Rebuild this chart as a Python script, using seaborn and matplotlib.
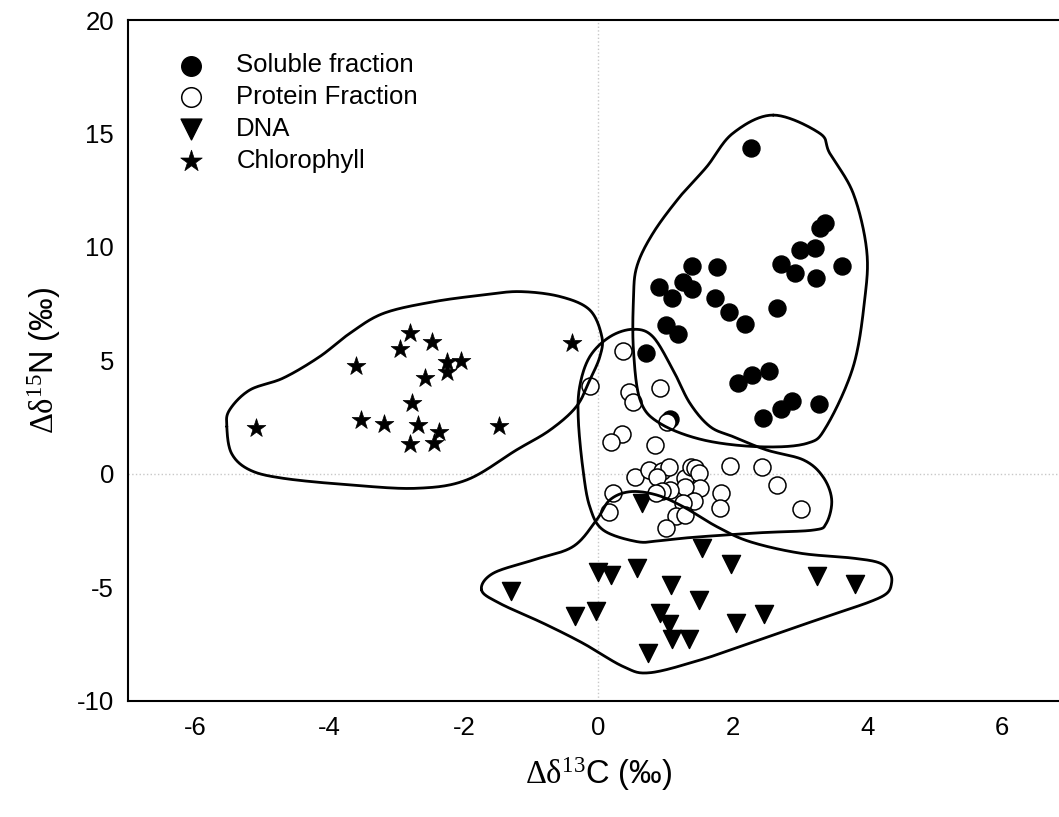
import numpy as np
import pandas as pd
import matplotlib
matplotlib.use("Agg")
import matplotlib.pyplot as plt
import seaborn as sns

# --- data (delta13C, delta15N, permil) ---
soluble_x = [2.27, 3.37, 3.29, 3.00, 3.22, 2.71, 2.93, 3.24, 3.63, 2.65,
             1.39, 1.77, 0.90, 1.25, 1.39, 1.10, 1.73, 1.94, 2.18, 1.01,
             1.19, 0.70, 2.08, 2.29, 2.54, 2.45, 2.71, 2.88, 3.28, 1.06]
soluble_y = [14.38, 11.04, 10.85, 9.86, 9.94, 9.25, 8.86, 8.64, 9.16, 7.32,
             9.17, 9.10, 8.25, 8.47, 8.13, 7.76, 7.73, 7.12, 6.59, 6.56,
             6.15, 5.34, 4.02, 4.35, 4.53, 2.45, 2.84, 3.22, 3.08, 2.40]

protein_x = [0.36, -0.13, 0.46, 0.52, 0.91, 1.02, 0.35, 0.18, 0.84, 1.96,
             2.44, 2.65, 3.01, 0.54, 0.75, 0.95, 1.05, 0.87, 1.29, 1.37,
             1.43, 1.50, 1.51, 1.29, 1.06, 0.95, 0.85, 0.22, 0.16, 1.42,
             1.25, 1.82, 1.81, 1.16, 1.29, 1.01]
protein_y = [5.41, 3.87, 3.62, 3.18, 3.77, 2.30, 1.75, 1.42, 1.27, 0.34,
             0.29, -0.48, -1.56, -0.13, 0.17, 0.14, 0.29, -0.15, -0.20, 0.31,
             0.24, 0.02, -0.64, -0.57, -0.71, -0.74, -0.83, -0.86, -1.67, -1.18,
             -1.27, -0.83, -1.52, -1.86, -1.82, -2.40]

dna_x = [-1.30, -0.35, -0.04, -0.01, 0.18, 0.58, 0.64, 1.08, 0.91, 1.05,
         1.09, 1.35, 0.73, 1.49, 1.54, 1.97, 2.04, 2.47, 3.25, 3.81]
dna_y = [-5.16, -6.27, -6.03, -4.31, -4.46, -4.17, -1.27, -4.90, -6.12, -6.62,
         -7.29, -7.29, -7.88, -5.56, -3.26, -3.97, -6.59, -6.19, -4.50, -4.87]

chl_x = [-5.09, -3.61, -3.54, -3.19, -2.80, -2.95, -2.47, -2.26, -2.05, -2.26,
         -2.58, -2.78, -2.68, -2.38, -2.81, -2.45, -1.48, -0.40]
chl_y = [2.00, 4.75, 2.37, 2.19, 6.19, 5.49, 5.81, 4.94, 4.96, 4.50,
         4.21, 3.13, 2.15, 1.83, 1.30, 1.37, 2.11, 5.78]

# hand-drawn group outlines (control points)
soluble_hull_x = [2.60, 2.00, 1.61, 1.21, 0.81, 0.57, 0.52, 0.52, 0.62, 0.91,
                  1.56, 2.40, 3.10, 3.39, 3.79, 3.96, 3.99, 3.79, 3.44, 3.29]
soluble_hull_y = [15.81, 15.01, 13.53, 12.21, 10.60, 9.13, 7.66, 5.46, 3.25, 2.23,
                  1.49, 1.19, 1.34, 2.08, 4.72, 7.66, 9.86, 12.36, 14.13, 15.01]

protein_hull_x = [0.52, 0.81, 1.11, 1.36, 1.66, 2.00, 2.50, 3.05, 3.34, 3.47,
                  3.39, 3.20, 2.40, 1.41, 0.91, 0.57, 0.07, -0.13, -0.23, -0.30,
                  -0.28, -0.13, 0.17]
protein_hull_y = [6.37, 6.04, 4.57, 3.11, 2.08, 1.64, 1.05, 0.61, -0.13, -1.15,
                  -2.18, -2.48, -2.60, -2.80, -2.95, -2.99, -2.48, -1.45, 0.17, 2.37,
                  3.84, 5.16, 6.04]

dna_hull_x = [-1.74, -1.57, -0.97, -0.38, -0.03, 0.17, 0.47, 0.86, 1.26, 1.76,
              2.25, 3.00, 3.79, 4.19, 4.34, 4.36, 4.29, 4.04, 3.54, 3.25,
              2.25, 1.51, 0.76, 0.37, -0.23, -0.82, -1.47]
dna_hull_y = [-5.12, -4.39, -3.80, -3.21, -2.04, -1.15, -0.79, -0.93, -1.45, -2.33,
              -2.99, -3.50, -3.72, -3.94, -4.39, -4.83, -5.27, -5.64, -6.15, -6.44,
              -7.47, -8.21, -8.77, -8.50, -7.47, -6.59, -5.71]

chl_hull_x = [-5.53, -5.49, -5.19, -4.69, -4.15, -3.70, -3.20, -2.46, -1.72, -1.17,
              -0.57, -0.13, 0.05, 0.02, -0.13, -0.33, -0.72, -1.22, -1.96, -2.71,
              -3.70, -4.69, -5.19, -5.46]
chl_hull_y = [2.08, 2.81, 3.69, 4.22, 5.16, 6.19, 7.07, 7.58, 7.88, 8.03,
              7.81, 7.22, 6.04, 5.16, 4.13, 2.96, 1.93, 1.05, -0.27, -0.64,
              -0.49, -0.20, 0.17, 0.90]


def smooth_closed(xs, ys, n=24):
    # periodic Catmull-Rom through the control points
    P = np.column_stack([xs, ys])
    N = len(P)
    t = np.linspace(0, 1, n, endpoint=False)[:, None]
    segs = []
    for i in range(N):
        p0, p1, p2, p3 = P[(i - 1) % N], P[i], P[(i + 1) % N], P[(i + 2) % N]
        segs.append(0.5 * (2 * p1 + (-p0 + p2) * t
                           + (2 * p0 - 5 * p1 + 4 * p2 - p3) * t ** 2
                           + (-p0 + 3 * p1 - 3 * p2 + p3) * t ** 3))
    segs.append(P[:1])
    return np.vstack(segs)


sns.set_style("white")
plt.rcParams['font.family'] = ['Liberation Sans', 'DejaVu Sans']
plt.rcParams['mathtext.fontset'] = 'custom'
plt.rcParams['mathtext.rm'] = 'Liberation Serif'
plt.rcParams['mathtext.it'] = 'Liberation Serif:italic'
plt.rcParams['axes.unicode_minus'] = False
plt.rcParams['text.color'] = 'black'
plt.rcParams['axes.labelcolor'] = 'black'
plt.rcParams['xtick.color'] = 'black'
plt.rcParams['ytick.color'] = 'black'

fig = plt.figure(figsize=(10.59, 8.17), dpi=100)
ax = fig.add_axes([0.1209, 0.1424, 0.8885, 0.8331])

ax.axvline(0, color='#c8c8c8', ls=':', lw=1, zorder=0)
ax.axhline(0, color='#c8c8c8', ls=':', lw=1, zorder=0)

sns.scatterplot(x=soluble_x, y=soluble_y, ax=ax, marker='o', s=150,
                color='black', edgecolor='black', linewidth=1, label='Soluble fraction', zorder=3)
sns.scatterplot(x=protein_x, y=protein_y, ax=ax, marker='o', s=150,
                color='white', edgecolor='black', linewidth=1.1, label='Protein Fraction', zorder=4)
sns.scatterplot(x=dna_x, y=dna_y, ax=ax, marker='v', s=170,
                color='black', edgecolor='black', linewidth=1, label='DNA', zorder=3)
sns.scatterplot(x=chl_x, y=chl_y, ax=ax, marker='*', s=200,
                color='black', edgecolor='black', linewidth=0.5, label='Chlorophyll', zorder=3)

for hx, hy in [(soluble_hull_x, soluble_hull_y), (protein_hull_x, protein_hull_y),
               (dna_hull_x, dna_hull_y), (chl_hull_x, chl_hull_y)]:
    c = smooth_closed(hx, hy)
    ax.plot(c[:, 0], c[:, 1], color='black', lw=2, zorder=5)

ax.set_xlim(-7, 7)
ax.set_ylim(-10, 20)
ax.set_xticks([-6, -4, -2, 0, 2, 4, 6])
ax.set_yticks([-10, -5, 0, 5, 10, 15, 20])
ax.tick_params(direction='in', length=7, width=1.3, labelsize=18.5, color='black')
ax.tick_params(axis='x', pad=11)
ax.tick_params(axis='y', pad=10)
for sp in ax.spines.values():
    sp.set_color('black')
    sp.set_linewidth(1.5)

ax.set_xlabel(r'$\mathrm{\Delta\delta^{13}}$C (‰)', fontsize=23.5, labelpad=11)
ax.set_ylabel(r'$\mathrm{\Delta\delta^{15}}$N (‰)', fontsize=23.5, labelpad=10)

ax.legend(loc='upper left', bbox_to_anchor=(0.029, 0.966), frameon=False,
          fontsize=18.5, handletextpad=0.75, labelspacing=0.3, borderaxespad=0,
          markerscale=1.15)

fig.savefig('out.png', dpi=100)
